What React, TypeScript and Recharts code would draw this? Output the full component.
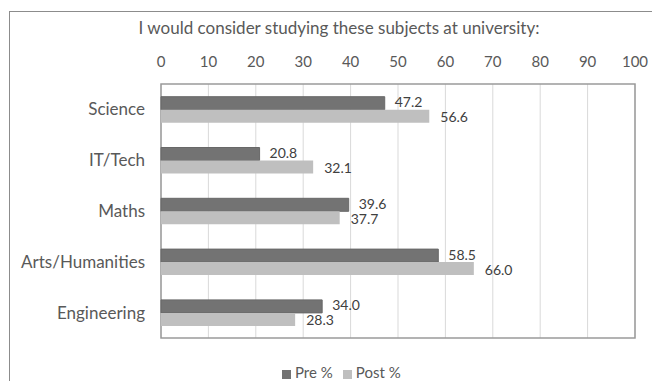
import {
  BarChart,
  Bar,
  XAxis,
  YAxis,
  CartesianGrid,
  Legend,
  LabelList,
  ReferenceArea,
} from "recharts";

const subjects = ["Science", "IT/Tech", "Maths", "Arts/Humanities", "Engineering"];
const prePct = [47.2, 20.8, 39.6, 58.5, 34.0];
const postPct = [56.6, 32.1, 37.7, 66.0, 28.3];
const xTicks = [0, 10, 20, 30, 40, 50, 60, 70, 80, 90, 100];
const seriesOrder = ["Pre %", "Post %"];

const rows = subjects.map((s, i) => ({ subject: s, pre: prePct[i], post: postPct[i] }));

const FONT = "Lato, 'Open Sans', sans-serif";
const TEXT = "#595959";

export default function App() {
  return (
    <div
      style={{
        position: "fixed",
        top: 0,
        left: 0,
        width: 652,
        height: 381,
        overflow: "hidden",
        background: "#fff",
        fontFamily: FONT,
      }}
    >
      <div
        style={{
          position: "absolute",
          left: 9,
          top: 11,
          width: 700,
          height: 400,
          border: "1px solid #8c8c8c",
        }}
      />
      <div
        style={{
          position: "absolute",
          top: 17,
          left: 0,
          width: 678,
          textAlign: "center",
          fontSize: 17,
          color: TEXT,
        }}
      >
        I would consider studying these subjects at university:
      </div>
      <div style={{ position: "absolute", top: 0, left: 0 }}>
        <BarChart
          width={652}
          height={381}
          data={rows}
          layout="vertical"
          margin={{ top: 54, right: 17, bottom: 0, left: 0 }}
          barCategoryGap="25%"
          barGap={0}
        >
          <CartesianGrid horizontal={false} stroke="#d9d9d9" />
          <XAxis
            type="number"
            orientation="top"
            domain={[0, 100]}
            ticks={xTicks}
            axisLine={false}
            tickLine={false}
            tickSize={0}
            tickMargin={17}
            height={30}
            tick={{ fill: TEXT, fontSize: 15, fontFamily: FONT }}
          />
          <YAxis
            type="category"
            dataKey="subject"
            width={161}
            axisLine={false}
            tickLine={false}
            tickSize={0}
            tickMargin={16}
            tick={{ fill: TEXT, fontSize: 17, fontFamily: FONT }}
          />
          <ReferenceArea x1={0} x2={100} fill="none" stroke="#9a9a9a" strokeWidth={1.5} ifOverflow="visible" />
          <Bar dataKey="pre" name="Pre %" fill="#737373" stroke="#686868" isAnimationActive={false}>
            <LabelList
              dataKey="pre"
              position="right"
              offset={10}
              dy={-1}
              formatter={(v: any) => Number(v).toFixed(1)}
              style={{ fill: "#404040", fontSize: 14, fontFamily: FONT }}
            />
          </Bar>
          <Bar dataKey="post" name="Post %" fill="#bfbfbf" isAnimationActive={false}>
            <LabelList
              dataKey="post"
              position="right"
              offset={11}
              dy={1}
              formatter={(v: any) => Number(v).toFixed(1)}
              style={{ fill: "#404040", fontSize: 14, fontFamily: FONT }}
            />
          </Bar>
          <Legend
            verticalAlign="bottom"
            iconType="square"
            iconSize={9}
            itemSorter={(item: any) => seriesOrder.indexOf(item.value)}
            wrapperStyle={{ paddingTop: 25, left: 282, width: "auto", fontSize: 15, fontFamily: FONT }}
            formatter={(value: any) => <span style={{ color: TEXT }}>{value}</span>}
          />
        </BarChart>
      </div>
    </div>
  );
}
